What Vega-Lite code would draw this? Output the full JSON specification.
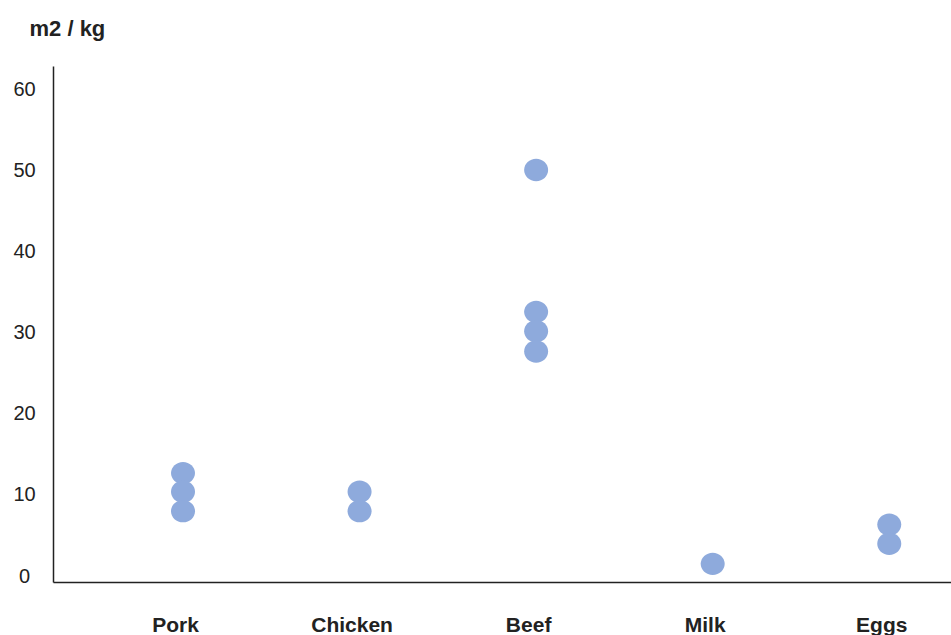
{
  "$schema": "https://vega.github.io/schema/vega-lite/v6.json",
  "width": 898,
  "height": 516,
  "autosize": {"type": "none"},
  "padding": {"left": 53, "top": 66, "right": 0, "bottom": 53},
  "background": "white",
  "config": {"view": {"stroke": null}, "font": "Liberation Sans"},
  "data": {
    "values": [
      {"food": "Pork", "value": 12.7},
      {"food": "Pork", "value": 10.4},
      {"food": "Pork", "value": 8.0},
      {"food": "Chicken", "value": 10.4},
      {"food": "Chicken", "value": 8.0},
      {"food": "Beef", "value": 50.1},
      {"food": "Beef", "value": 32.6},
      {"food": "Beef", "value": 30.2},
      {"food": "Beef", "value": 27.7},
      {"food": "Milk", "value": 1.5},
      {"food": "Eggs", "value": 6.35},
      {"food": "Eggs", "value": 3.98}
    ]
  },
  "mark": {
    "type": "point",
    "filled": true,
    "shape": "M-1,0A1,0.93 0 1,0 1,0A1,0.93 0 1,0 -1,0Z",
    "size": 576,
    "color": "#8eaadc",
    "opacity": 1
  },
  "encoding": {
    "x": {
      "field": "food",
      "type": "nominal",
      "sort": ["Pork", "Chicken", "Beef", "Milk", "Eggs"],
      "scale": {"type": "point", "padding": 0.543, "align": 0.678},
      "axis": {
        "title": null,
        "ticks": false,
        "tickSize": 0,
        "grid": false,
        "domainColor": "#222222",
        "domainWidth": 1.5,
        "labelFontSize": 21,
        "labelFontWeight": "bold",
        "labelColor": "#222222",
        "labelBaseline": "alphabetic",
        "labelPadding": 49,
        "labelOffset": -8,
        "labelAngle": 0
      }
    },
    "y": {
      "field": "value",
      "type": "quantitative",
      "scale": {"domain": [-0.74, 62.93], "nice": false, "zero": false},
      "axis": {
        "values": [0, 10, 20, 30, 40, 50, 60],
        "grid": false,
        "ticks": false,
        "tickSize": 0,
        "domainColor": "#222222",
        "domainWidth": 1.5,
        "labelFontSize": 20,
        "labelColor": "#222222",
        "labelAlign": "center",
        "labelBaseline": "middle",
        "labelPadding": 29,
        "title": "m2 / kg",
        "titleAngle": 0,
        "titleAlign": "left",
        "titleBaseline": "alphabetic",
        "titleX": -24,
        "titleY": -31,
        "titleFontSize": 22,
        "titleFontWeight": "bold",
        "titleColor": "#222222"
      }
    }
  }
}
